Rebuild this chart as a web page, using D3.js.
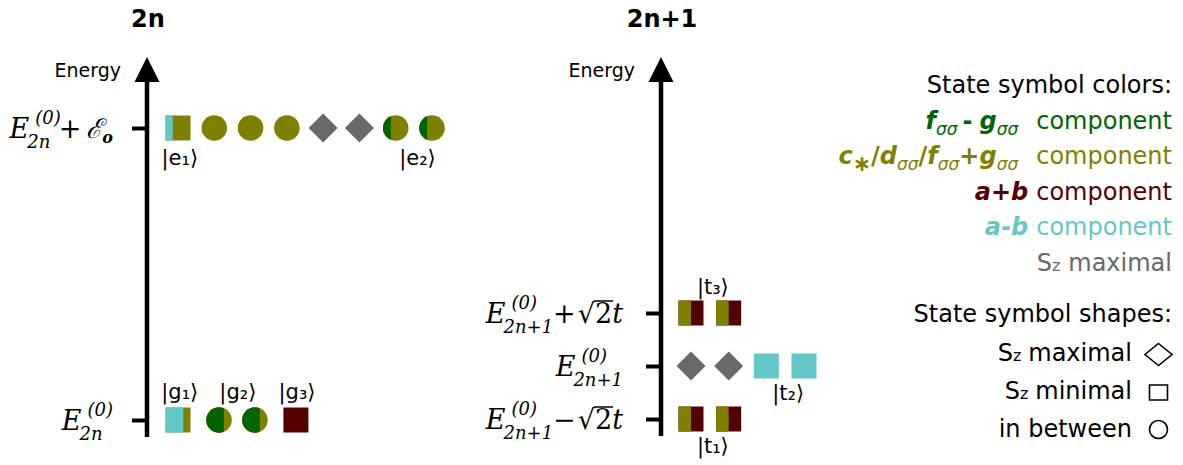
<!DOCTYPE html>
<html><head><meta charset="utf-8">
<script src="https://cdn.jsdelivr.net/npm/d3@7"></script>
<style>body{margin:0;background:#fff} svg{display:block}</style>
</head><body>
<svg id="chart" width="1183" height="465"></svg>
<script>
// ---------------- data ----------------
const panelTitles = ["2n", "2n+1"];
const levels2n = [0, 1];        // E(0)_2n , E(0)_2n + eps0
const levels2n1 = [-1, 0, 1];   // E(0)_2n+1 + k*sqrt2 t

const tickLabels2n = [
  [["E","base"],["(0)","sup"],["2n","sub"]],
  [["E","base"],["(0)","sup"],["2n","sub"],["+","op"],["ℰ","base"],["o","boldsub"]]
];
const tickLabels2n1 = [
  [["E","base"],["(0)","sup"],["2n+1","sub"],["−","opTight"],["√","root"],["2","rooted"],["t","base"]],
  [["E","base"],["(0)","sup"],["2n+1","sub"]],
  [["E","base"],["(0)","sup"],["2n+1","sub"],["+","opTight"],["√","root"],["2","rooted"],["t","base"]]
];

// state symbols: column slot, level, shape, colour components (left, right), share of left colour
const states2n = [
  {slot:0, level:1, shape:"square",  comp:["amb","cdfg"], share:0.29},
  {slot:1, level:1, shape:"circle",  comp:["cdfg"], share:1},
  {slot:2, level:1, shape:"circle",  comp:["cdfg"], share:1},
  {slot:3, level:1, shape:"circle",  comp:["cdfg"], share:1},
  {slot:4, level:1, shape:"diamond", comp:["sz"], share:1},
  {slot:5, level:1, shape:"diamond", comp:["sz"], share:1},
  {slot:6, level:1, shape:"circle",  comp:["fmg","cdfg"], share:0.31},
  {slot:7, level:1, shape:"circle",  comp:["fmg","cdfg"], share:0.31},
  {slot:0,    level:0, shape:"square", comp:["amb","cdfg"], share:0.71},
  {slot:1.13, level:0, shape:"circle", comp:["fmg","cdfg"], share:0.69},
  {slot:2.12, level:0, shape:"circle", comp:["fmg","cdfg"], share:0.69},
  {slot:3.25, level:0, shape:"square", comp:["apb"], share:1}
];
const states2n1 = [
  {slot:0, level:1,  shape:"square",  comp:["cdfg","apb"], share:0.5},
  {slot:1, level:1,  shape:"square",  comp:["cdfg","apb"], share:0.5},
  {slot:0, level:0,  shape:"diamond", comp:["sz"], share:1},
  {slot:1, level:0,  shape:"diamond", comp:["sz"], share:1},
  {slot:2, level:0,  shape:"square",  comp:["amb"], share:1},
  {slot:3, level:0,  shape:"square",  comp:["amb"], share:1},
  {slot:0, level:-1, shape:"square",  comp:["cdfg","apb"], share:0.5},
  {slot:1, level:-1, shape:"square",  comp:["cdfg","apb"], share:0.5}
];

const kets2n = [
  {label:"e₁", slot:0.05, level:1, side:"below"},
  {label:"e₂", slot:6.6,  level:1, side:"below"},
  {label:"g₁", slot:0.05, level:0, side:"above"},
  {label:"g₂", slot:1.65, level:0, side:"above"},
  {label:"g₃", slot:3.28, level:0, side:"above"}
];
const kets2n1 = [
  {label:"t₃", slot:0.58, level:1,  side:"above"},
  {label:"t₂", slot:2.58, level:0,  side:"below"},
  {label:"t₁", slot:0.58, level:-1, side:"below"}
];

const colorLegendTitle = "State symbol colors:";
const colorLegend = [
  {key:"fmg",  math:[["f","bi"],["σσ","bsub"],["-","dash"],["g","bi"],["σσ","bsub"]], word:"component"},
  {key:"cdfg", math:[["c","bi"],["∗","star"],["/","bop0"],["d","bi"],["σσ","bsub"],["/","bop0"],["f","bi"],["σσ","bsub"],["+","bop0"],["g","bi"],["σσ","bsub"]], word:"component"},
  {key:"apb",  math:[["a","bi"],["+","bop0"],["b","bi"]], word:"component"},
  {key:"amb",  math:[["a","bi"],["-","bop0"],["b","bi"]], word:"component"},
  {key:"sz",   math:[["S","word"],["z","smallz"]], word:"maximal"}
];
const shapeLegendTitle = "State symbol shapes:";
const shapeLegend = [
  {label:[["S","word"],["z","smallz"],["maximal","wordsp"]], shape:"diamond"},
  {label:[["S","word"],["z","smallz"],["minimal","wordsp"]], shape:"square"},
  {label:[["in between","word"]], shape:"circle"}
];

// ---------------- styles ----------------
const palette = {fmg:"#006400", cdfg:"#808000", apb:"#550000", amb:"#64c7c7", sz:"#696969"};
const SERIF = "'DejaVu Serif', serif", SANS = "'DejaVu Sans', sans-serif";
const roles = {
  base:    {family:SERIF, size:27, italic:true},
  sup:     {family:SERIF, size:18, italic:true, dy:-14, gap:6},
  sub:     {family:SERIF, size:18, italic:true, dy:10, under:-8},
  op:      {family:SERIF, size:27, gap:-2, after:5},
  opTight: {family:SERIF, size:27, gap:0, after:1},
  boldsub: {family:SERIF, size:16, italic:true, bold:true, dy:5},
  root:    {family:SERIF, size:27, gap:1},
  rooted:  {family:SERIF, size:27, overline:true},
  bi:      {family:SANS, size:24, italic:true, bold:true},
  bsub:    {family:SANS, size:17, italic:true, dy:6},
  dash:    {family:SANS, size:24, bold:true, gap:5, after:7},
  bop0:    {family:SANS, size:24, bold:true},
  star:    {family:SANS, size:22, bold:true, dy:7},
  word:    {family:SANS, size:24},
  wordsp:  {family:SANS, size:24, gap:7},
  smallz:  {family:SANS, size:16}
};

const svg = d3.select("#chart");

function layout(parent, pieces, anchorX, baseY, align, color) {
  const g = parent.append("g");
  let cursor = 0, prev = null;
  pieces.forEach(([txt, roleName]) => {
    const r = roles[roleName];
    const x0 = (r.under !== undefined && prev) ? prev.x + r.under : cursor + (r.gap || 0);
    const t = g.append("text").attr("x", x0).attr("y", r.dy || 0)
      .attr("fill", color)
      .style("font-family", r.family).style("font-size", r.size + "px")
      .style("font-style", r.italic ? "italic" : "normal")
      .style("font-weight", r.bold ? "bold" : "normal").text(txt);
    const w = t.node().getComputedTextLength();
    if (r.overline) g.append("line").attr("x1", x0 - 1).attr("x2", x0 + w + 1)
      .attr("y1", -21.5).attr("y2", -21.5).attr("stroke", color).attr("stroke-width", 1.5);
    cursor = Math.max(cursor, x0 + w + (r.after || 0));
    prev = {x: x0, w};
  });
  const shift = align === "end" ? anchorX - cursor : anchorX;
  g.attr("transform", `translate(${shift},${baseY})`);
  return cursor;
}

const symbolTypes = {square: d3.symbolSquare, circle: d3.symbolCircle, diamond: d3.symbolSquare};
const symbolSizes = {square: 625, circle: Math.PI * 12.8 * 12.8, diamond: 420};
const halfWidth = {square: 12.5, circle: 12.8, diamond: 14.5};
let clipId = 0;
function drawState(g, d, xs, ys) {
  const cx = xs(d.slot), cy = ys(d.level);
  const cols = d.comp.map(k => palette[k]);
  const sym = d3.symbol().type(symbolTypes[d.shape]).size(symbolSizes[d.shape]);
  const tr = `translate(${cx},${cy}) rotate(${d.shape === "diamond" ? 45 : 0})`;
  g.append("path").attr("d", sym()).attr("transform", tr).attr("fill", cols[cols.length - 1]);
  if (cols.length > 1) {
    const half = halfWidth[d.shape];
    const id = "clip" + (clipId++);
    g.append("clipPath").attr("id", id).append("rect")
      .attr("x", cx - half - 2).attr("y", cy - half - 4)
      .attr("width", 2 + 2 * half * d.share).attr("height", 2 * half + 8);
    g.append("g").attr("clip-path", `url(#${id})`).append("path")
      .attr("d", sym()).attr("transform", tr).attr("fill", cols[0]);
  }
}

const panels = [
  {title: panelTitles[0], axisX: 147, bottom: 437, labelX: 113,
   xs: d3.scaleLinear().domain([0, 7]).range([178, 432]),
   ys: d3.scaleLinear().domain([0, 1]).range([420, 128]),
   levels: levels2n, tickLabels: tickLabels2n, states: states2n, kets: kets2n, below: 37, above: -21},
  {title: panelTitles[1], axisX: 661, bottom: 436, labelX: 623,
   xs: d3.scaleLinear().domain([0, 3]).range([691, 804]),
   ys: d3.scaleLinear().domain([-1, 1]).range([419, 313]),
   levels: levels2n1, tickLabels: tickLabels2n1, states: states2n1, kets: kets2n1, below: 34, above: -19}
];

panels.forEach(p => {
  const g = svg.append("g");
  g.append("text").attr("x", p.axisX + 1).attr("y", 27).attr("text-anchor", "middle")
    .style("font-family", SANS).style("font-size", "24px").style("font-weight", "bold").text(p.title);
  g.append("text").attr("x", p.axisX - 26).attr("y", 77).attr("text-anchor", "end")
    .style("font-family", SANS).style("font-size", "19px").text("Energy");
  g.append("line").attr("x1", p.axisX).attr("x2", p.axisX).attr("y1", p.bottom).attr("y2", 78)
    .attr("stroke", "#000").attr("stroke-width", 4.5);
  g.append("path").attr("d", `M${p.axisX},57 L${p.axisX + 12.5},82 L${p.axisX - 12.5},82 Z`).attr("fill", "#000");
  const ax = g.append("g").attr("transform", `translate(${p.axisX},0)`)
    .call(d3.axisLeft(p.ys).tickValues(p.levels).tickSize(15).tickFormat(""));
  ax.select(".domain").remove();
  ax.selectAll(".tick line").attr("stroke", "#000").attr("stroke-width", 4);
  p.levels.forEach((lv, i) => layout(g, p.tickLabels[i], p.labelX, p.ys(lv) + 9.5, "end", "#000"));
  p.states.forEach(d => drawState(g, d, p.xs, p.ys));
  g.selectAll(".ket").data(p.kets).join("text").attr("class", "ket")
    .attr("x", d => p.xs(d.slot))
    .attr("y", d => p.ys(d.level) + (d.side === "below" ? p.below : p.above))
    .attr("text-anchor", "middle")
    .style("font-family", SANS).style("font-size", "21px")
    .text(d => "|" + d.label + "⟩");
});

// colour legend
const lg = svg.append("g");
lg.append("text").attr("x", 1172).attr("y", 93).attr("text-anchor", "end")
  .style("font-family", SANS).style("font-size", "24px").text(colorLegendTitle);
colorLegend.forEach((row, i) => {
  const last = row.math[row.math.length - 1][1];
  const gap = last === "bsub" ? 18 : 8;
  roles["wordgap" + gap] = {family: SANS, size: 24, gap: gap};
  const pieces = row.math.concat([[row.word, "wordgap" + gap]]);
  layout(lg, pieces, 1172, 128.5 + 35.5 * i, "end", palette[row.key]);
});

// shape legend
lg.append("text").attr("x", 1172).attr("y", 322).attr("text-anchor", "end")
  .style("font-family", SANS).style("font-size", "24px").text(shapeLegendTitle);
shapeLegend.forEach((row, i) => {
  const base = 361 + 38 * i;
  layout(lg, row.label, 1132, base, "end", "#000");
  const cx = 1158.5, cy = base - 6.5;
  let d;
  if (row.shape === "diamond") d = `M${cx},${cy - 11} L${cx + 13.5},${cy} L${cx},${cy + 11} L${cx - 13.5},${cy} Z`;
  else if (row.shape === "square") d = `M${cx - 9},${cy - 7.5} h18 v15 h-18 Z`;
  else d = d3.symbol().type(d3.symbolCircle).size(Math.PI * 81)();
  const path = lg.append("path").attr("d", d).attr("fill", "none").attr("stroke", "#000").attr("stroke-width", 1.6);
  if (row.shape === "circle") path.attr("transform", `translate(${cx},${cy - 1})`);
});
</script>
</body></html>
